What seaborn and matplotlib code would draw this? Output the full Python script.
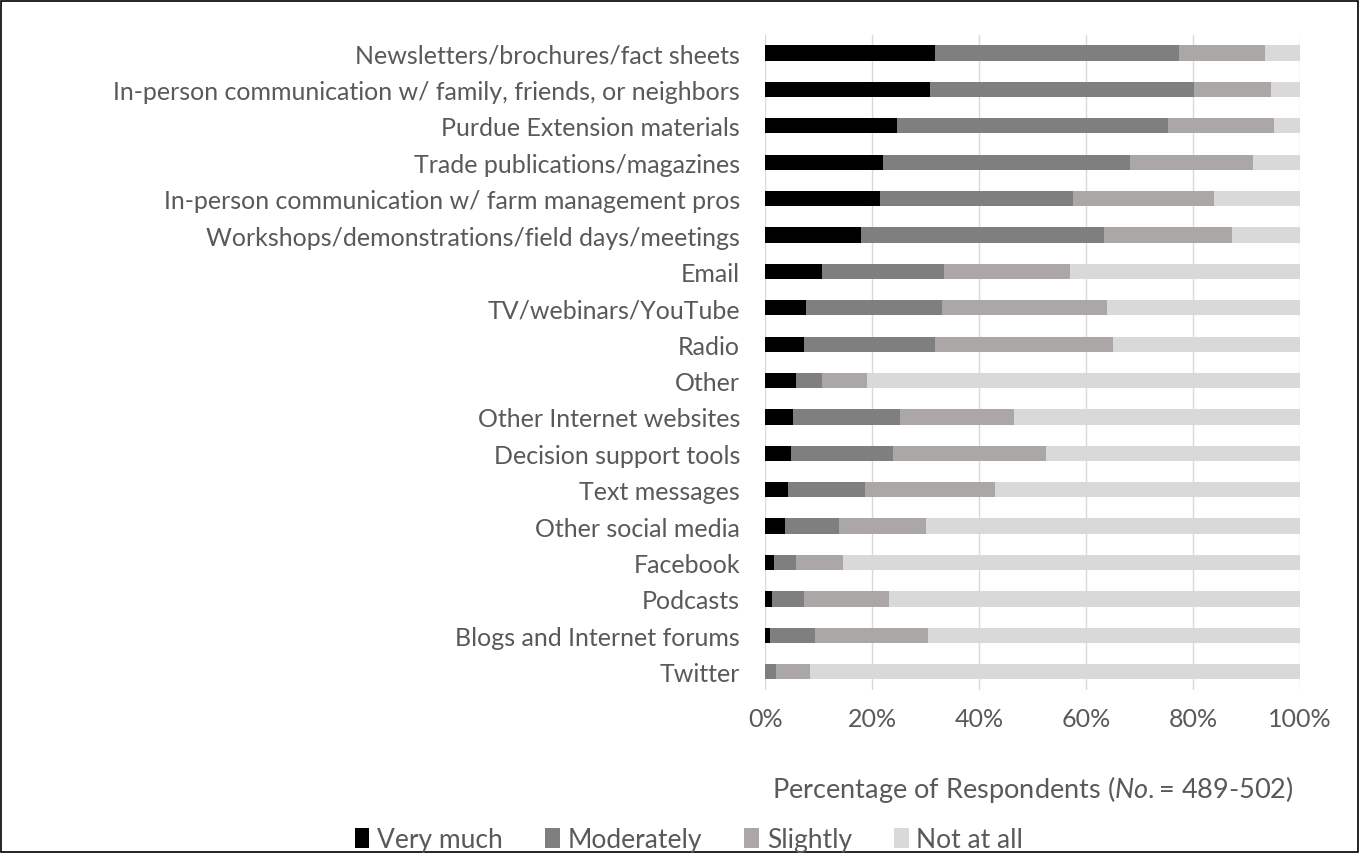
import matplotlib
matplotlib.use("Agg")
import matplotlib.pyplot as plt
import seaborn as sns
import pandas as pd
from matplotlib.patches import Patch, Rectangle

# categories, top to bottom
sources = [
    "Newsletters/brochures/fact sheets",
    "In-person communication w/ family, friends, or neighbors",
    "Purdue Extension materials",
    "Trade publications/magazines",
    "In-person communication w/ farm management pros",
    "Workshops/demonstrations/field days/meetings",
    "Email",
    "TV/webinars/YouTube",
    "Radio",
    "Other",
    "Other Internet websites",
    "Decision support tools",
    "Text messages",
    "Other social media",
    "Facebook",
    "Podcasts",
    "Blogs and Internet forums",
    "Twitter",
]

# percentages
very_much = [31.8, 30.9, 24.7, 22.0, 21.4, 18.0, 10.6, 7.6, 7.3, 5.8,
             5.2, 4.8, 4.3, 3.7, 1.6, 1.2, 0.9, 0.0]
moderately = [45.6, 49.2, 50.6, 46.2, 36.2, 45.3, 22.8, 25.4, 24.5, 4.8,
              20.1, 19.2, 14.3, 10.2, 4.2, 6.1, 8.4, 2.1]
slightly = [16.0, 14.4, 19.9, 23.0, 26.4, 24.0, 23.6, 30.9, 33.3, 8.4,
            21.2, 28.6, 24.4, 16.1, 8.7, 15.8, 21.1, 6.3]
not_at_all = [100 - a - b - c for a, b, c in zip(very_much, moderately, slightly)]

levels = ["Very much", "Moderately", "Slightly", "Not at all"]
colors = ["#000000", "#7f7f7f", "#aaa7a6", "#d9d9d9"]
text_color = "#595959"

df = pd.DataFrame({
    "source": sources,
    "Very much": very_much,
    "Moderately": moderately,
    "Slightly": slightly,
    "Not at all": not_at_all,
})
# cumulative totals so that each series can be overlaid
cum = df[levels].cumsum(axis=1)

sns.set_theme(style="white")
plt.rcParams["font.family"] = ["Lato", "DejaVu Sans"]
plt.rcParams["mathtext.fontset"] = "custom"
plt.rcParams["mathtext.rm"] = "Lato"
plt.rcParams["mathtext.it"] = "Lato:italic"

fig = plt.figure(figsize=(13.59, 8.54), dpi=100)
ax = fig.add_axes([0.563, 0.191, 0.3936, 0.767])

# draw from the widest cumulative bar to the narrowest
for lvl, col in reversed(list(zip(levels, colors))):
    sns.barplot(x=cum[lvl], y=df["source"], color=col, width=0.42,
                orient="h", ax=ax, saturation=1, edgecolor="none")

ax.set_xlim(0, 100)
ax.set_xticks([0, 20, 40, 60, 80, 100])
ax.set_xticklabels([f"{t}%" for t in [0, 20, 40, 60, 80, 100]])
ax.xaxis.grid(True, color="#d9d9d9", linewidth=1)
ax.set_axisbelow(True)
for s in ax.spines.values():
    s.set_visible(False)
ax.tick_params(axis="y", length=0, pad=18, labelsize=18, labelcolor=text_color)
ax.tick_params(axis="x", length=0, pad=12, labelsize=18, labelcolor=text_color)
ax.set_ylabel("")
ax.set_xlabel(r"Percentage of Respondents ($\it{No.}$= 489-502)",
              fontsize=19.5, color=text_color, labelpad=31)

handles = [Patch(facecolor=c, edgecolor="none", label=l) for l, c in zip(levels, colors)]
leg = fig.legend(handles=handles, loc="center",
                 bbox_to_anchor=(0.507, 1 - 841 / 854),
                 ncol=4, frameon=False, fontsize=19, handlelength=0.55,
                 handleheight=0.8, handletextpad=0.3, columnspacing=1.6)
for t in leg.get_texts():
    t.set_color(text_color)

# thin frame around the whole picture
fig.patches.append(Rectangle((0.001, 0.001), 0.998, 0.997, transform=fig.transFigure,
                             fill=False, edgecolor="black", linewidth=1.2))

fig.savefig("out.png", dpi=100, facecolor="white")
